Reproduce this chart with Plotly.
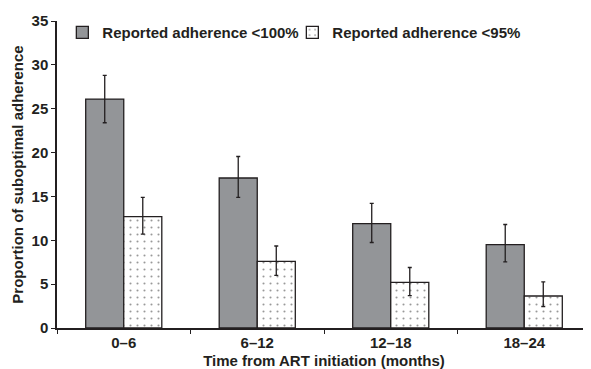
import plotly.graph_objects as go

categories = ["0–6", "6–12", "12–18", "18–24"]
adh100 = [26.1, 17.1, 11.9, 9.5]
adh100_hi = [28.8, 19.55, 14.2, 11.8]
adh100_lo = [23.4, 14.9, 9.75, 7.55]
adh95 = [12.7, 7.6, 5.2, 3.65]
adh95_hi = [14.9, 9.35, 6.9, 5.25]
adh95_lo = [10.7, 6.0, 3.7, 2.45]

dark = "#231f20"
font_family = "Arial, Liberation Sans, sans-serif"

fig = go.Figure()
fig.add_trace(go.Bar(
    x=categories, y=adh100, name="Reported adherence <100%",
    marker=dict(color="#939598", line=dict(color=dark, width=1.3)),
    error_y=dict(type="data", symmetric=False,
                 array=[h - v for h, v in zip(adh100_hi, adh100)],
                 arrayminus=[v - l for l, v in zip(adh100_lo, adh100)],
                 color=dark, thickness=1.3, width=2),
))
fig.add_trace(go.Bar(
    x=categories, y=adh95, name="Reported adherence <95%",
    marker=dict(color="white", line=dict(color=dark, width=1.3),
                pattern=dict(shape=".", fgcolor="#333333", bgcolor="white", size=7, solidity=0.07)),
    error_y=dict(type="data", symmetric=False,
                 array=[h - v for h, v in zip(adh95_hi, adh95)],
                 arrayminus=[v - l for l, v in zip(adh95_lo, adh95)],
                 color=dark, thickness=1.3, width=2),
))

fig.update_layout(
    width=583, height=361,
    margin=dict(l=49, r=0, t=13, b=41, autoexpand=False),
    plot_bgcolor="white", paper_bgcolor="white",
    barmode="group", bargap=0.43, bargroupgap=0,
    font=dict(family=font_family, size=15, color=dark, weight="bold"),
    showlegend=True,
    legend=dict(orientation="h", x=0.01, y=0.962, xanchor="left", yanchor="middle",
                bgcolor="rgba(0,0,0,0)", font=dict(size=15, weight="bold"),
                itemwidth=30, tracegroupgap=0, entrywidth=185, entrywidthmode="pixels"),
    xaxis=dict(
        title=dict(text="Time from ART initiation (months)", standoff=14,
                   font=dict(size=15, weight="bold")),
        automargin=False,
        showline=True, linecolor=dark, linewidth=1.5,
        ticks="outside", tickson="boundaries", ticklen=4, tickcolor=dark, tickwidth=1.3,
        tickfont=dict(size=15, weight="bold"),
        showgrid=False, zeroline=False,
    ),
    yaxis=dict(
        title=dict(text="Proportion of suboptimal adherence", standoff=4,
                   font=dict(size=15, weight="bold")),
        automargin=False,
        range=[0, 35], dtick=5,
        showline=True, linecolor=dark, linewidth=1.5,
        ticks="outside", ticklen=4, tickcolor=dark, tickwidth=1.3,
        tickfont=dict(size=15, weight="bold"),
        showgrid=False, zeroline=False,
    ),
)

fig.write_html("out.html")
